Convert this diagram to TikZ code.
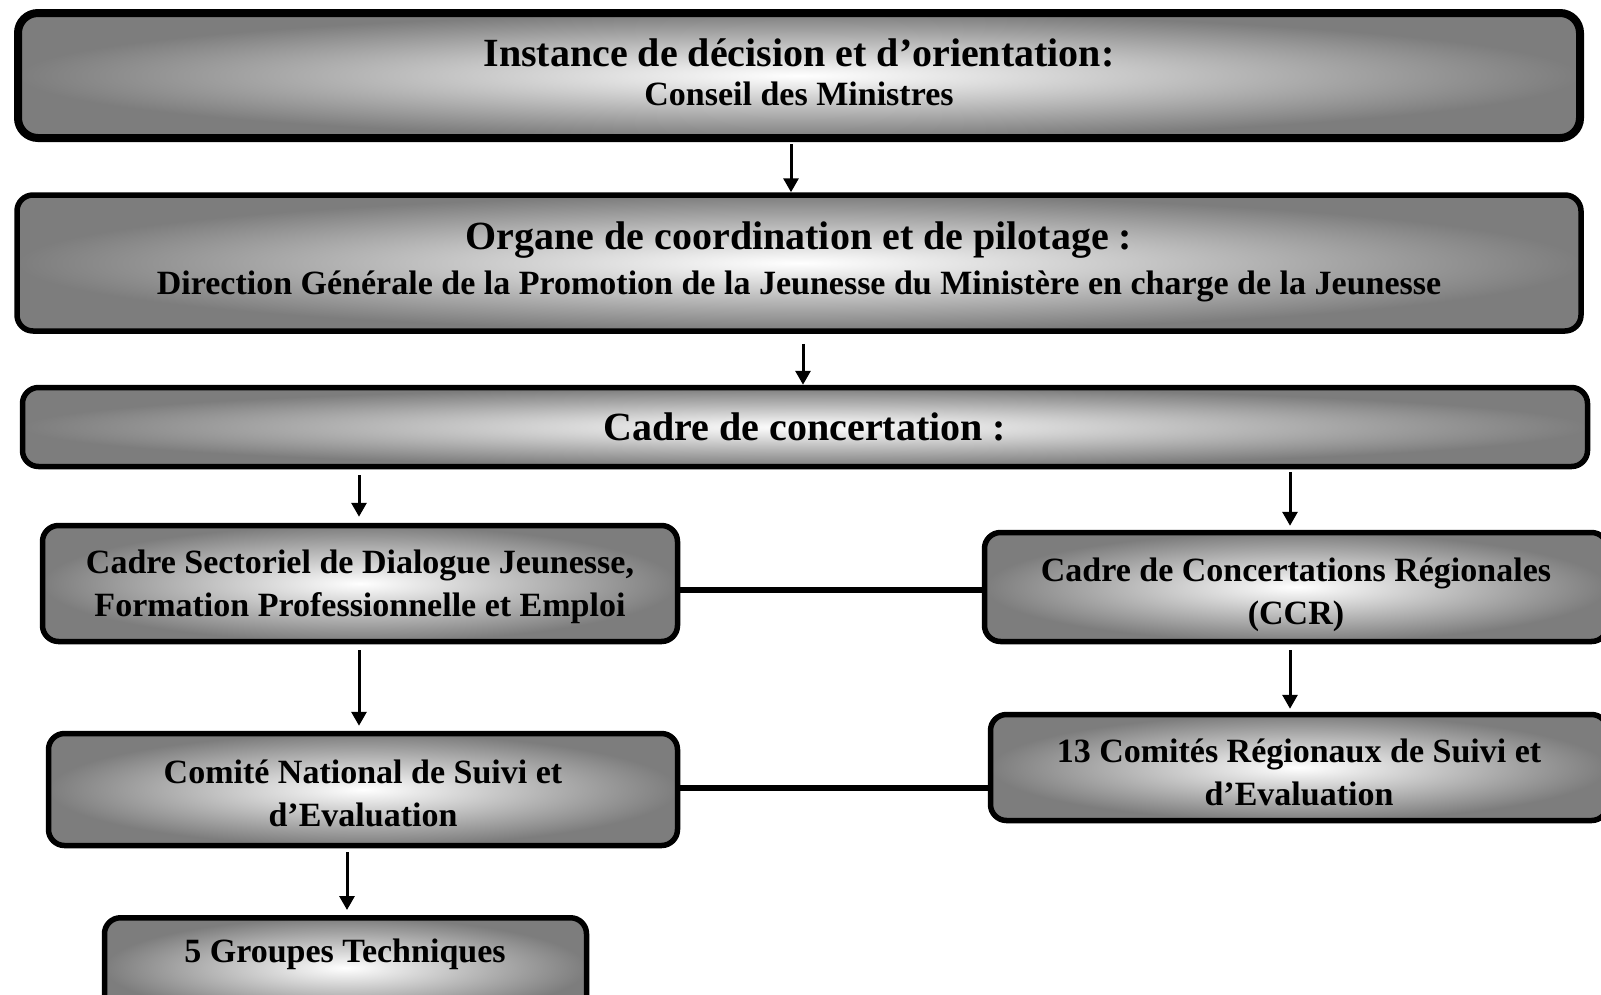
\documentclass[tikz,border=0pt]{standalone}
\usepackage{fontspec}
\setmainfont{Liberation Serif}
\usetikzlibrary{arrows.meta,calc}
\definecolor{edgegray}{RGB}{125,125,125}
\tikzset{
  box/.style={draw=black, line width=5.5pt, rounded corners=16pt,
    inner color=white, outer color=edgegray, inner sep=0pt},
  bigbox/.style={box, line width=8pt, rounded corners=20pt},
  arr/.style={line width=3pt, -{Triangle[width=15pt,length=14pt]}},
  conn/.style={line width=6pt},
  lbl/.style={font=\bfseries\fontsize{34}{43}\selectfont, inner sep=0pt, align=center},
  big/.style={font=\bfseries\fontsize{40}{44}\selectfont}
}
\begin{document}
\begin{tikzpicture}[x=1pt,y=-1pt]
\useasboundingbox (0,0) rectangle (1601,994);
\clip (0,0) rectangle (1601,994);

\node[bigbox, minimum width=1562pt, minimum height=125pt] (b1) at (799,75.5) {};
\node[box, minimum width=1564pt, minimum height=136pt] (b2) at (799,263) {};
\node[box, minimum width=1565pt, minimum height=79pt] (b3) at (805,427) {};
\node[box, minimum width=635pt, minimum height=116pt] (b4) at (360,583.5) {};
\node[box, minimum width=623pt, minimum height=109pt] (b5) at (1296,587) {};
\node[box, minimum width=629pt, minimum height=112pt] (b6) at (363,789.5) {};
\node[box, minimum width=617pt, minimum height=106pt] (b7) at (1299,767.5) {};
\node[box, minimum width=482pt, minimum height=100pt, anchor=north] (b8) at (345.5,915) {};

\node[lbl] (t1) at ($(b1)+(0,-3)$)
  {{\fontsize{40}{44}\selectfont Instance de décision et d’orientation:}\\[-4pt] Conseil des Ministres};
\node[lbl] (t2) at ($(b2)+(0,-1)$)
  {{\fontsize{40}{44}\selectfont Organe de coordination et de pilotage :}\\[2pt] Direction Générale de la Promotion de la Jeunesse du Ministère en charge de la Jeunesse};
\node[lbl, big] (t3) at (b3) {Cadre de concertation :};
\node[lbl] (t4) at ($(b4)+(0,3)$) {Cadre Sectoriel de Dialogue Jeunesse,\\ Formation Professionnelle et Emploi};
\node[lbl] (t5) at ($(b5)+(0,8)$) {Cadre de Concertations Régionales\\ (CCR)};
\node[lbl] (t6) at ($(b6)+(0,4)$) {Comité National de Suivi et\\ d’Evaluation};
\node[lbl] (t7) at ($(b7)+(0,5)$) {13 Comités Régionaux de Suivi et\\ d’Evaluation};
\node[lbl] (t8) at (345,954) {5 Groupes Techniques};

\coordinate (a1) at (791,0);
\coordinate (a2) at (803,0);
\coordinate (a3) at (359,0);
\coordinate (a4) at (1290,0);
\coordinate (a7) at (347,0);
\coordinate (h1) at (0,590);
\coordinate (h2) at (0,788);

\draw[arr, shorten <=2pt] (a1 |- b1.south) -- (a1 |- b2.north);
\draw[arr, shorten <=10pt] (a2 |- b2.south) -- (a2 |- b3.north);
\draw[arr, shorten <=6pt, shorten >=6pt] (a3 |- b3.south) -- (a3 |- b4.north);
\draw[arr, shorten <=3pt, shorten >=4pt] (a4 |- b3.south) -- (a4 |- b5.north);
\draw[arr, shorten <=6pt, shorten >=5pt] (a3 |- b4.south) -- (a3 |- b6.north);
\draw[arr, shorten <=6pt, shorten >=3pt] (a4 |- b5.south) -- (a4 |- b7.north);
\draw[arr, shorten <=4pt, shorten >=5pt] (a7 |- b6.south) -- (a7 |- b8.north);

\draw[conn] (b4.east |- h1) -- (b5.west |- h1);
\draw[conn] (b6.east |- h2) -- (b7.west |- h2);
\end{tikzpicture}
\end{document}
